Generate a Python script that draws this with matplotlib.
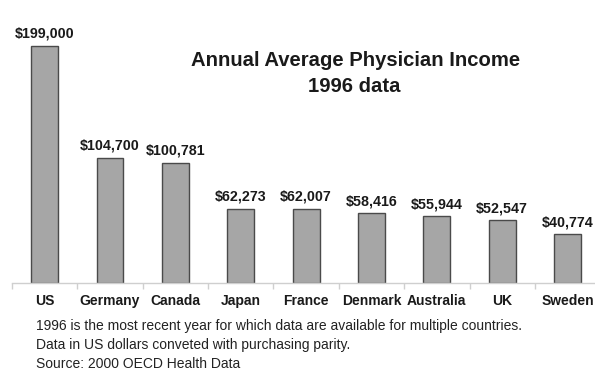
import matplotlib.pyplot as plt

countries = ['US', 'Germany', 'Canada', 'Japan', 'France', 'Denmark',
             'Australia', 'UK', 'Sweden']
income = [199000, 104700, 100781, 62273, 62007, 58416, 55944, 52547, 40774]
notes = [
    '1996 is the most recent year for which data are available for multiple countries.',
    'Data in US dollars conveted with purchasing parity.',
    'Source: 2000 OECD Health Data',
]

plt.rcParams['font.family'] = ['Liberation Sans', 'DejaVu Sans']

W, H = 595, 371
fig = plt.figure(figsize=(W / 100, H / 100), dpi=100)
ax = fig.add_axes([12 / W, (H - 283) / H, 1 - 12 / W, 263 / H])

x = range(len(countries))
ax.bar(x, income, width=0.41, color='#a6a6a6', edgecolor='#4a4a4a',
       linewidth=1.0, zorder=2)

# dollar labels over each bar
for i, v in enumerate(income):
    ax.annotate('${:,}'.format(v), (i, v), xytext=(0, 6),
                textcoords='offset points', ha='center', va='baseline',
                fontsize=10.3, fontweight='bold', color='#1a1a1a')

ax.set_xlim(-0.5, 8.42)
ax.set_ylim(0, 220800)
for s in ['top', 'right', 'left']:
    ax.spines[s].set_visible(False)
ax.spines['bottom'].set_color('#cfcfcf')
ax.spines['bottom'].set_linewidth(1.0)
ax.set_yticks([])
ax.set_xticks([i - 0.5 for i in range(len(countries))])
ax.set_xticklabels([])
ax.tick_params(axis='x', length=4, color='#cfcfcf', width=1.0)

for i, c in enumerate(countries):
    ax.text(i, -0.068, c, transform=ax.get_xaxis_transform(), ha='center',
            va='center', fontsize=10, fontweight='bold', color='#1a1a1a')

fig.text(356 / W, 1 - 60 / H, 'Annual Average Physician Income', ha='center',
         va='center', fontsize=14.6, fontweight='bold', color='#1a1a1a')
fig.text(354 / W, 1 - 87 / H, '1996 data', ha='center', va='center',
         fontsize=14.6, fontweight='bold', color='#1a1a1a')

for k, line in enumerate(notes):
    fig.text(36 / W, 1 - (326 + 19 * k) / H, line, ha='left', va='center',
             fontsize=10, color='#222222')

fig.savefig('out.png', dpi=100)
